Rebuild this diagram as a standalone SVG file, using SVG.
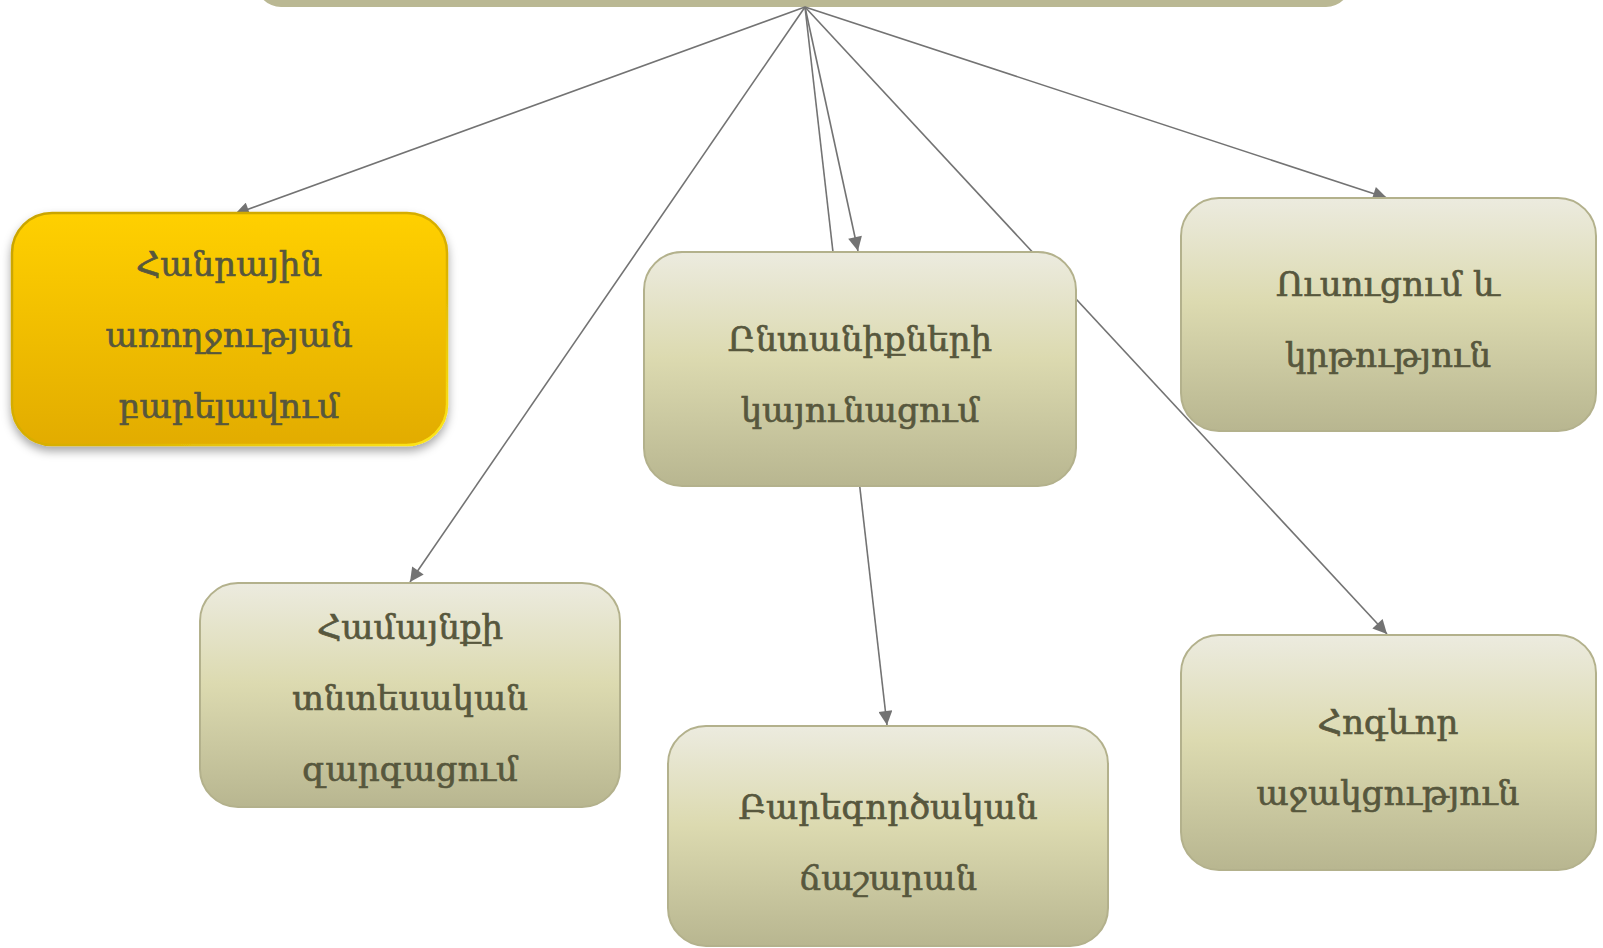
<svg xmlns="http://www.w3.org/2000/svg" width="1603" height="948" viewBox="0 0 1603 948">
<defs>
<linearGradient id="olive" x1="0" y1="0" x2="0" y2="1">
<stop offset="0" stop-color="#ecebdf"/>
<stop offset="0.45" stop-color="#dcdab0"/>
<stop offset="1" stop-color="#b8b690"/>
</linearGradient>
<linearGradient id="gold" x1="0" y1="0" x2="0" y2="1">
<stop offset="0" stop-color="#ffd005"/>
<stop offset="1" stop-color="#e2ac00"/>
</linearGradient>
<linearGradient id="goldEdge" x1="0" y1="0" x2="1" y2="1">
<stop offset="0" stop-color="#c9a400"/>
<stop offset="0.6" stop-color="#d9b000"/>
<stop offset="1" stop-color="#ffe81a"/>
</linearGradient>
<filter id="shadow" x="-10%" y="-10%" width="120%" height="130%">
<feDropShadow dx="0" dy="5" stdDeviation="5" flood-color="#000" flood-opacity="0.35"/>
</filter>
<marker id="arrow" viewBox="0 0 10 10" refX="10" refY="5" markerWidth="15" markerHeight="14" markerUnits="userSpaceOnUse" orient="auto">
<path d="M0,0 L10,5 L0,10 z" fill="#737373"/>
</marker>
</defs>
<style>
.box{fill:url(#olive);stroke:#b3b18c;stroke-width:2}
.lbl{font-family:"DejaVu Serif","Noto Sans",serif;font-size:34px;fill:#57573d;stroke:#57573d;stroke-width:0.7;text-anchor:middle}
.con{stroke:#737373;stroke-width:1.6;fill:none;marker-end:url(#arrow)}
</style>
<g id="top">
<rect x="256" y="-200" width="1095" height="207" rx="25" fill="#bab893"/>
</g>
<g id="connectors">
<line class="con" x1="805" y1="7" x2="235" y2="214"/>
<line class="con" x1="805" y1="7" x2="410" y2="582"/>
<line class="con" x1="805" y1="7" x2="858" y2="251"/>
<line class="con" x1="805" y1="7" x2="887" y2="725"/>
<line class="con" x1="805" y1="7" x2="1387" y2="634"/>
<line class="con" x1="805" y1="7" x2="1387" y2="198"/>
</g>
<g id="n1">
<rect x="12" y="213" width="435" height="232" rx="40" fill="url(#gold)" stroke="url(#goldEdge)" stroke-width="2.5" filter="url(#shadow)"/>
<text class="lbl" x="229" y="276">Հանրային</text>
<text class="lbl" x="229" y="347">առողջության</text>
<text class="lbl" x="229" y="418">բարելավում</text>
</g>
<g id="n2">
<rect class="box" x="644" y="252" width="432" height="234" rx="38"/>
<text class="lbl" x="860" y="351">Ընտանիքների</text>
<text class="lbl" x="860" y="422">կայունացում</text>
</g>
<g id="n3">
<rect class="box" x="1181" y="198" width="415" height="233" rx="38"/>
<text class="lbl" x="1388" y="296">Ուսուցում և</text>
<text class="lbl" x="1388" y="367">կրթություն</text>
</g>
<g id="n4">
<rect class="box" x="200" y="583" width="420" height="224" rx="38"/>
<text class="lbl" x="410" y="639">Համայնքի</text>
<text class="lbl" x="410" y="710">տնտեսական</text>
<text class="lbl" x="410" y="781">զարգացում</text>
</g>
<g id="n5">
<rect class="box" x="668" y="726" width="440" height="220" rx="38"/>
<text class="lbl" x="888" y="819">Բարեգործական</text>
<text class="lbl" x="888" y="890">ճաշարան</text>
</g>
<g id="n6">
<rect class="box" x="1181" y="635" width="415" height="235" rx="38"/>
<text class="lbl" x="1388" y="734">Հոգևոր</text>
<text class="lbl" x="1388" y="805">աջակցություն</text>
</g>
</svg>
